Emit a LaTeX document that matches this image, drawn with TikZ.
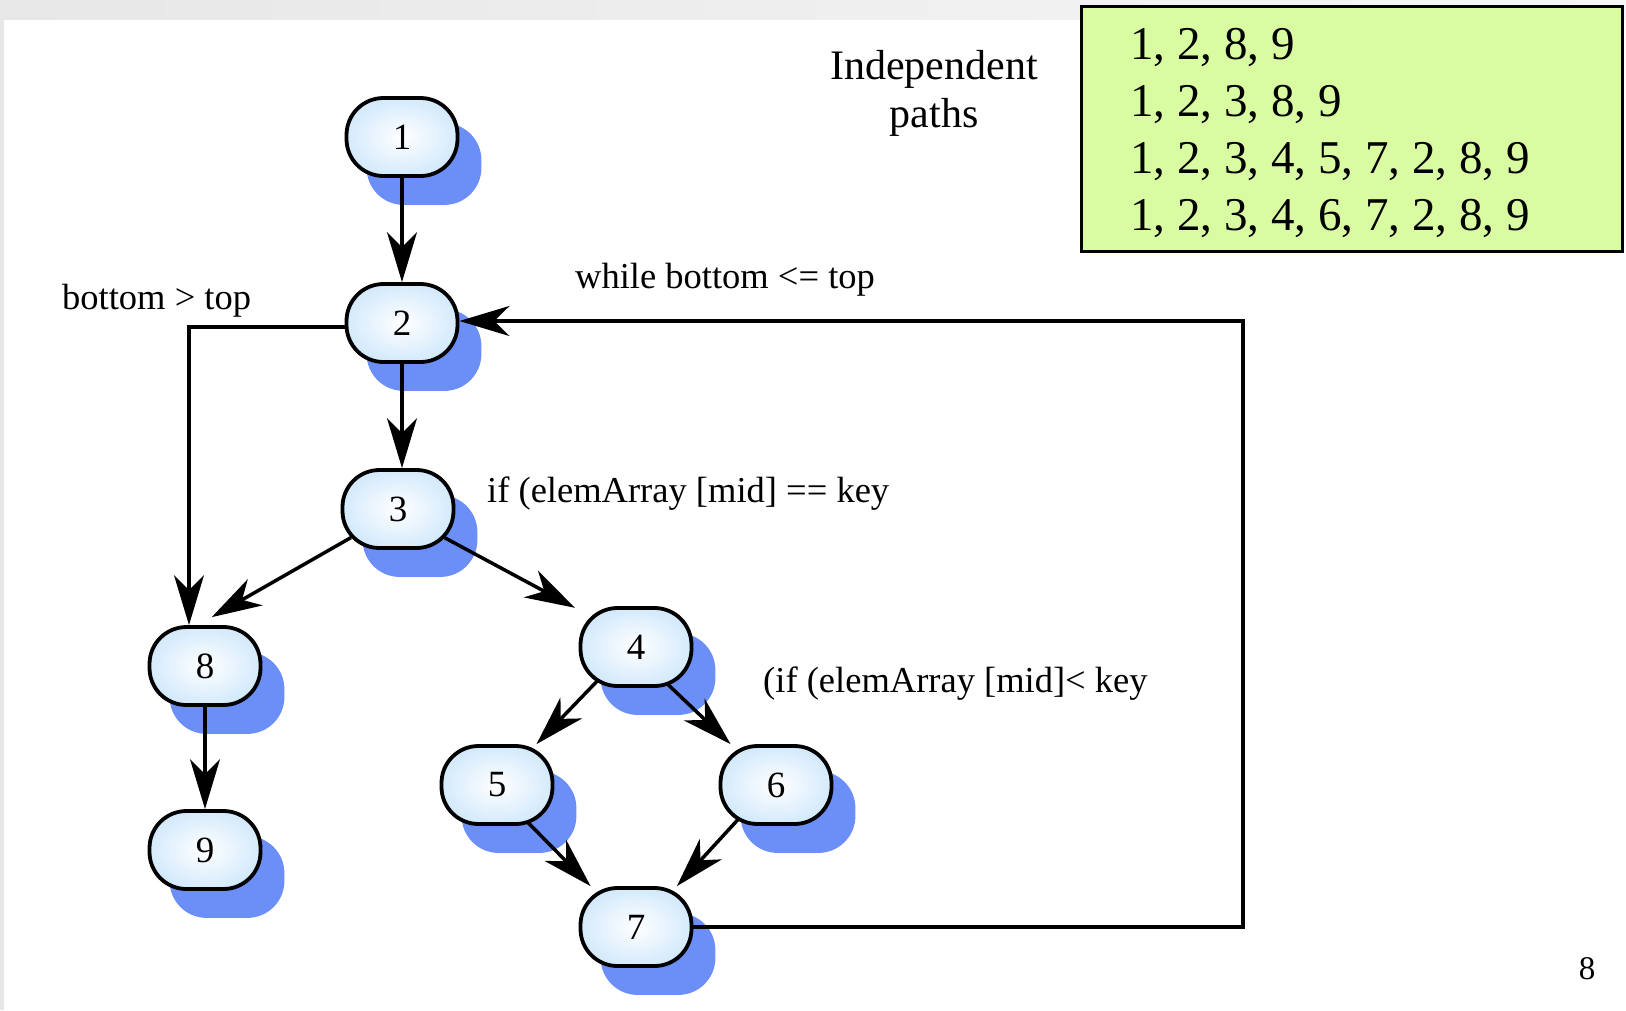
\documentclass[tikz,border=0pt]{standalone}
\usepackage{fontspec}
\setmainfont{Liberation Serif}
\usetikzlibrary{arrows.meta,calc}
\pgfdeclarelayer{shadowlayer}
\pgfdeclarelayer{nodelayer}
\pgfsetlayers{shadowlayer,main,nodelayer}
\definecolor{nodeedge}{RGB}{212,234,252}
\definecolor{shadowc}{RGB}{108,142,247}
\definecolor{pathbox}{RGB}{217,252,163}
\definecolor{stripL}{RGB}{231,231,231}
\definecolor{stripR}{RGB}{246,246,246}
\begin{document}
\begin{tikzpicture}[x=1pt,y=-1pt,
  vnode/.style={draw, line width=3.8pt, rounded corners=37pt, minimum width=111pt,
    minimum height=78pt, inner sep=0pt, inner color=white, outer color=nodeedge,
    font=\fontsize{37}{40}\selectfont},
  arr/.style={line width=3.5pt, -{Stealth[length=50pt,width=30pt,inset=15pt]}},
  lbl/.style={anchor=base west, inner sep=0pt, font=\fontsize{36.5}{40}\selectfont},
  pathtxt/.style={anchor=base west, inner sep=0pt, font=\fontsize{47}{50}\selectfont},
  headtxt/.style={anchor=base, inner sep=0pt, font=\fontsize{42}{46}\selectfont},
  shadowbox/.style={fill=shadowc, rounded corners=37pt}]
\useasboundingbox (0,0) rectangle (1626,1010);

% nodes
\begin{pgfonlayer}{nodelayer}
\node[vnode] (n1) at (402,137) {1};
\node[vnode] (n2) at (402,323) {2};
\node[vnode] (n3) at (398,509) {3};
\node[vnode] (n8) at (205,666) {8};
\node[vnode] (n9) at (205,850) {9};
\node[vnode] (n4) at (636,647) {4};
\node[vnode] (n5) at (497,785) {5};
\node[vnode] (n6) at (776,785) {6};
\node[vnode] (n7) at (636,927) {7};
\end{pgfonlayer}

% background, strip and shadows
\begin{pgfonlayer}{shadowlayer}
\fill[white] (0,0) rectangle (1626,1010);
\shade[left color=stripL, right color=stripR] (0,0) rectangle (1626,19);
\fill[stripL] (0,0) rectangle (4,1010);
\foreach \n in {n1,n2,n3,n4,n5,n6,n7,n8,n9}
  \path[shadowbox] ($(\n.south west)+(22pt,-27pt)$) rectangle ($(\n.north east)+(22pt,-27pt)$);
\end{pgfonlayer}

% paths box
\node[draw, line width=2.5pt, fill=pathbox, minimum width=541pt, minimum height=245pt,
  inner sep=0pt, anchor=north west] (box) at (1080,5) {};
\node[pathtxt] (p1) at (1130,59) {1, 2, 8, 9};
\node[pathtxt] (p2) at (1130,116) {1, 2, 3, 8, 9};
\node[pathtxt] (p3) at (1130,173) {1, 2, 3, 4, 5, 7, 2, 8, 9};
\node[pathtxt] (p4) at (1130,230) {1, 2, 3, 4, 6, 7, 2, 8, 9};
\node[headtxt] (h1) at (934,79) {Independent};
\node[headtxt] (h2) at (934,127) {paths};

% connectors
\coordinate (loop) at (1243,321);
\draw[arr] (n1.south) -- (n2.north);
\draw[arr] (n2.south) -- (n2.south |- n3.north);
\draw[arr] ([yshift=-4pt]n2.west) -| ([xshift=-16pt]n8.north);
\draw[arr, shorten <=-12pt, shorten >=16pt] (n3.211) -- (n8.100);
\draw[arr, shorten <=-12pt, shorten >=4pt] (n3.329) -- (n4.147);
\draw[arr, shorten <=-12pt] (n4.222) -- (n5.46);
\draw[arr, shorten <=-12pt] (n4.311) -- (n6.138);
\draw[arr, shorten <=-12pt] (n5.310) -- (n7.138);
\draw[arr, shorten <=-12pt] (n6.223) -- (n7.45);
\draw[arr] (n8.south) -- (n9.north);
\draw[arr] (n7.east) -| (loop) -- ([yshift=2pt]n2.east);

% labels
\node[lbl] (l1) at (62,309) {bottom > top};
\node[lbl] (l2) at (575,288) {while bottom <= top};
\node[lbl] (l3) at (487,502) {if (elemArray [mid] == key};
\node[lbl] (l4) at (763,692) {(if (elemArray [mid]< key};
\node[anchor=base, inner sep=0pt, font=\fontsize{33}{36}\selectfont] (pg) at (1587,979) {8};
\end{tikzpicture}
\end{document}
